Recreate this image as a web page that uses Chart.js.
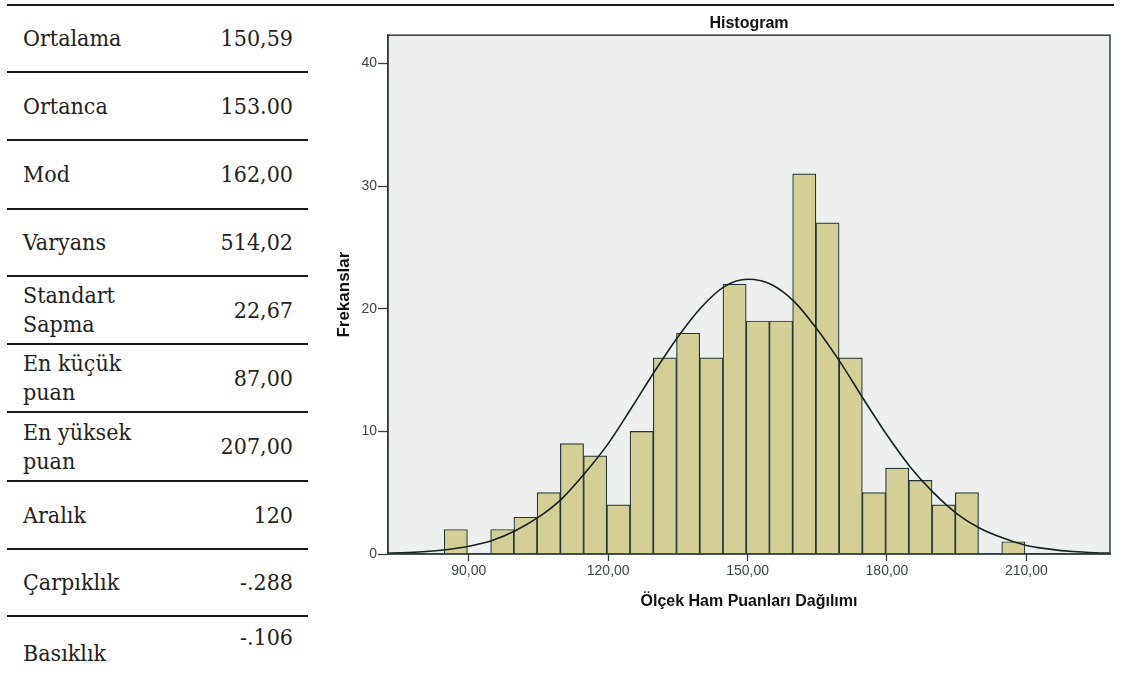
<!DOCTYPE html>
<html>
<head>
<meta charset="utf-8">
<script src="https://cdn.jsdelivr.net/npm/chart.js@4.4.1/dist/chart.umd.min.js"></script>
<style>
  html, body { margin: 0; padding: 0; background: #fff; width: 1126px; height: 683px; overflow: hidden; }
  body { position: relative; }
  #topRule { position: absolute; left: 7px; top: 4px; width: 1107px; height: 2px; background: #1a1a1a; }
  .row {
    position: absolute; left: 7px; width: 301px; box-sizing: border-box;
    border-bottom: 2px solid #1a1a1a;
    font-family: "DejaVu Serif Condensed", "DejaVu Serif", serif; font-size: 23px; color: #222;
    display: flex; align-items: center; justify-content: space-between;
    padding: 0 15px 0 16px; line-height: 29px;
  }
  .row.last { border-bottom: none; }
  #chartBox { position: absolute; left: 320px; top: 0; }
</style>
</head>
<body>
<div id="topRule"></div>
<div id="table"></div>
<div id="chartBox"><canvas id="histChart" width="806" height="683"></canvas></div>
<script>
// Summary table
const statLabels = ["Ortalama", "Ortanca", "Mod", "Varyans", "Standart<br>Sapma", "En küçük<br>puan",
  "En yüksek<br>puan", "Aralık", "Çarpıklık", "Basıklık"];
const statValues = ["150,59", "153.00", "162,00", "514,02", "22,67", "87,00", "207,00", "120", "-.288", "-.106"];
const rowEdges = [6, 73, 141, 210, 277, 345, 413, 482, 550, 617, 683];

// Histogram bins (midpoints) and frequencies
const binMids = [87.2, 92.2, 97.2, 102.2, 107.2, 112.2, 117.2, 122.2, 127.2, 132.2, 137.2, 142.2, 147.2,
  152.2, 157.2, 162.2, 167.2, 172.2, 177.2, 182.2, 187.2, 192.2, 197.2, 202.2, 207.2];
const counts = [2, 0, 2, 3, 5, 9, 8, 4, 10, 16, 18, 16, 22, 19, 19, 31, 27, 16, 5, 7, 6, 4, 5, 0, 1];

// Normal curve
const curveX = [72.6, 75, 80, 85, 90, 95, 100, 105, 110, 115, 120, 125, 130, 135, 140, 145, 150, 155,
  160, 165, 170, 175, 180, 185, 190, 195, 200, 205, 210, 215, 220, 225, 228];
const curveY = [0.06, 0.09, 0.18, 0.34, 0.63, 1.1, 1.9, 3.0, 4.5, 6.6, 9.0, 11.9, 14.9, 17.7, 20.1, 21.8,
  22.4, 22.0, 20.6, 18.3, 15.6, 12.6, 9.7, 7.1, 5.0, 3.3, 2.1, 1.3, 0.7, 0.4, 0.2, 0.1, 0.07];

const xTicks = [90, 120, 150, 180, 210];
const yTicks = [0, 10, 20, 30, 40];

/**
 * Build the stats table on the left
 */
const table = document.getElementById("table");
statLabels.forEach((label, i) => {
  const row = document.createElement("div");
  row.className = "row" + (i === statLabels.length - 1 ? " last" : "");
  row.style.top = rowEdges[i] + "px";
  row.style.height = (rowEdges[i + 1] - rowEdges[i]) + "px";
  row.innerHTML = `<span>${label}</span><span>${statValues[i]}</span>`;
  if (i === statLabels.length - 1) {
    row.style.alignItems = "flex-start";
    row.children[0].style.marginTop = "22px";
    row.children[1].style.marginTop = "6px";
  }
  table.appendChild(row);
});

/**
 * Plot background and frame
 */
const plotFrame = {
  id: "plotFrame",
  beforeDraw(chart) {
    const { ctx, chartArea: a } = chart;
    ctx.save();
    ctx.fillStyle = "#eef0f0";
    ctx.fillRect(a.left, a.top, a.width, a.height);
    ctx.restore();
  },
  afterDatasetsDraw(chart) {
    const { ctx, chartArea: a } = chart;
    ctx.save();
    ctx.strokeStyle = "#2f3d3d";
    ctx.lineWidth = 1.5;
    ctx.strokeRect(a.left, a.top, a.width, a.height);
    ctx.restore();
  },
};

const axisFont = { family: "'Liberation Sans', Arial, sans-serif", size: 14 };
const titleFont = { family: "'Liberation Sans', Arial, sans-serif", size: 16, weight: "bold" };

const ctx = document.getElementById("histChart").getContext("2d");
new Chart(ctx, {
  type: "bar",
  data: {
    datasets: [
      {
        type: "line",
        data: curveX.map((x, i) => ({ x, y: curveY[i] })),
        borderColor: "#152222",
        borderWidth: 1.6,
        pointRadius: 0,
        cubicInterpolationMode: "monotone",
        order: 0,
      },
      {
        type: "bar",
        data: binMids.map((x, i) => ({ x, y: counts[i] })),
        backgroundColor: "#d4cf96",
        borderColor: "#223636",
        borderWidth: 1.2,
        barPercentage: 1,
        categoryPercentage: 1,
        order: 1,
      },
    ],
  },
  options: {
    responsive: false,
    animation: false,
    events: [],
    layout: { padding: { left: 10, right: 16, top: 0, bottom: 72 } },
    plugins: {
      legend: { display: false },
      tooltip: { enabled: false },
      title: {
        display: true,
        fullSize: false,
        text: "Histogram",
        color: "#111",
        font: titleFont,
        padding: { top: 14, bottom: 2 },
      },
    },
    scales: {
      x: {
        type: "linear",
        min: 72.6,
        max: 228,
        offset: false,
        afterBuildTicks: (axis) => { axis.ticks = xTicks.map(v => ({ value: v })); },
        ticks: {
          callback: (v) => v.toFixed(2).replace(".", ","),
          color: "#3a4646",
          font: axisFont,
          padding: 2,
          maxRotation: 0,
          autoSkip: false,
        },
        grid: { offset: false, drawOnChartArea: false, tickLength: 7, color: "#2f3d3d", tickWidth: 1.3 },
        border: { display: true, color: "#2f3d3d", width: 1.5 },
        title: { display: true, text: "Ölçek Ham Puanları Dağılımı", color: "#111", font: titleFont, padding: { top: 10, bottom: 0 } },
      },
      y: {
        min: 0,
        max: 42.3,
        afterBuildTicks: (axis) => { axis.ticks = yTicks.map(v => ({ value: v })); },
        ticks: { color: "#3a4646", font: axisFont, padding: 1 },
        grid: { drawOnChartArea: false, tickLength: 10, color: "#2f3d3d", tickWidth: 1.3 },
        border: { display: true, color: "#2f3d3d", width: 1.5 },
        title: { display: true, text: "Frekanslar", color: "#111", font: { ...titleFont, size: 17 }, padding: { top: 4, bottom: 6 } },
      },
    },
  },
  plugins: [plotFrame],
});
</script>
</body>
</html>
